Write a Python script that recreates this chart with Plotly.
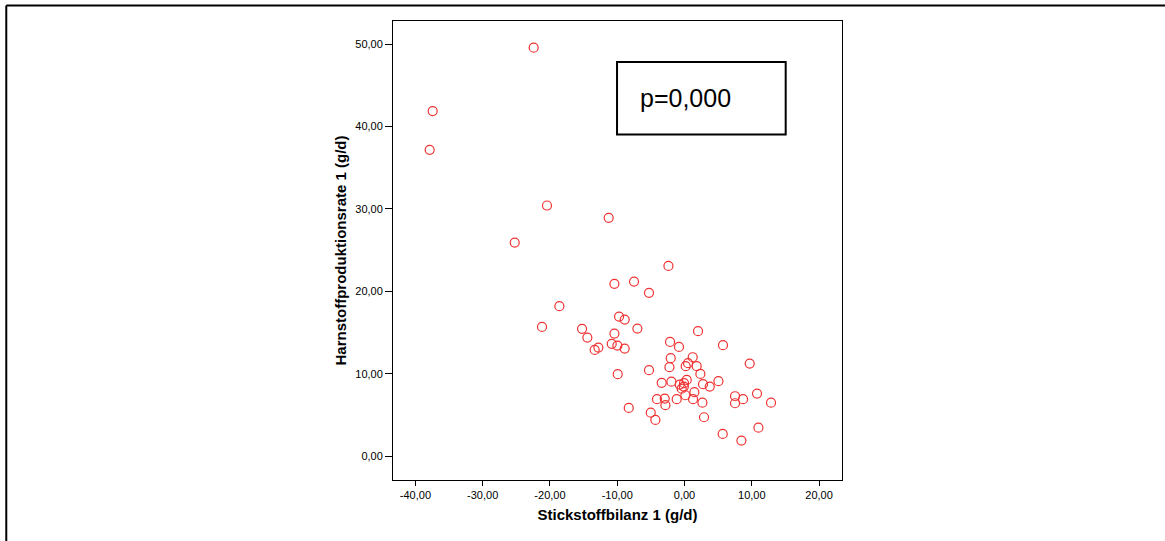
import plotly.graph_objects as go

# Stickstoffbilanz 1 (g/d) and Harnstoffproduktionsrate 1 (g/d) per patient
stickstoffbilanz = [
    -22.42, -37.43, -37.88, -20.44, -25.24, -18.60, -21.18, -11.27,
    -2.39, -10.42, -7.50, -5.28,
    -15.23, -14.44, -13.35, -12.80, -9.73, -8.89, -7.00, -10.42,
    -10.82, -9.98, -8.89, -9.93, -5.28,
    -2.15, -0.82, -2.05, -2.24,
    2.01, 5.72, 1.22, 0.52, 0.18, 1.81, 2.36, 9.69,
    -3.39, -1.95, -0.71, -0.07, 0.33, -0.42, -0.10,
    2.75, 3.75, 5.04, 1.47, 0.13, -1.16, 1.27, 2.66,
    -4.09, -2.94, -2.84, 7.51, 7.51, 8.70, 10.78, 12.86,
    -8.29, -5.02, -4.33, 2.90, 5.68, 8.46, 10.99,
]
harnstoffrate = [
    49.55, 41.86, 37.17, 30.41, 25.92, 18.20, 15.69, 28.92,
    23.09, 20.91, 21.19, 19.82,
    15.45, 14.39, 12.90, 13.18, 16.94, 16.58, 15.49, 14.88,
    13.63, 13.42, 13.06, 9.95, 10.44,
    13.87, 13.26, 11.89, 10.80,
    15.17, 13.47, 12.01, 11.29, 10.92, 10.92, 9.99, 11.24,
    8.90, 9.05, 8.69, 8.86, 9.26, 8.20, 8.45,
    8.74, 8.45, 9.10, 7.77, 7.40, 6.92, 6.92, 6.50,
    6.92, 6.99, 6.19, 7.28, 6.43, 6.92, 7.60, 6.50,
    5.86, 5.29, 4.41, 4.73, 2.71, 1.90, 3.47,
]

x_ticks = [-40, -30, -20, -10, 0, 10, 20]
y_ticks = [0, 10, 20, 30, 40, 50]
p_text = "p=0,000"


def fmt(v):
    return f"{v:.2f}".replace(".", ",")


FONT = "Liberation Sans, Arial, sans-serif"

fig = go.Figure()
fig.add_trace(go.Scatter(
    x=stickstoffbilanz,
    y=harnstoffrate,
    mode="markers",
    marker=dict(symbol="circle-open", size=9,
                line=dict(color="rgb(240,50,50)", width=1.2),
                color="rgb(240,50,50)"),
    showlegend=False,
    hoverinfo="x+y",
))

# p-value box
fig.add_shape(type="rect", xref="x", yref="y",
              x0=-10.03, x1=15.04, y0=39.03, y1=47.82,
              line=dict(color="black", width=2), fillcolor="white",
              layer="below")
fig.add_annotation(x=-6.91, y=43.4, xref="x", yref="y", text=p_text,
                   showarrow=False, xanchor="left", yanchor="middle",
                   font=dict(family=FONT, size=25, color="black"))

# outer frame lines (top and left edge of the page)
fig.add_shape(type="line", xref="paper", yref="paper",
              x0=-0.8613, x1=1.72, y0=1.0337, y1=1.0337,
              line=dict(color="black", width=2))
fig.add_shape(type="line", xref="paper", yref="paper",
              x0=-0.8613, x1=-0.8613, y0=-0.14, y1=1.0337,
              line=dict(color="black", width=2))

axis_common = dict(
    showgrid=False, zeroline=False, showline=True, mirror=True,
    linecolor="black", linewidth=1, ticks="outside", tickcolor="black",
    tickfont=dict(family=FONT, size=11, color="black"),
)

fig.update_xaxes(
    range=[-43.33, 23.41], tickvals=x_ticks,
    ticktext=[fmt(v) for v in x_ticks], ticklen=5,
    title=dict(text="<b>Stickstoffbilanz 1 (g/d)</b>", standoff=9,
               font=dict(family=FONT, size=15, color="black")),
    **axis_common,
)
fig.update_yaxes(
    range=[-2.88, 52.79], tickvals=y_ticks,
    ticktext=[fmt(v) for v in y_ticks], ticklen=7,
    title=dict(text="<b>Harnstoffproduktionsrate 1 (g/d)</b>", standoff=5,
               font=dict(family=FONT, size=15, color="black")),
    **axis_common,
)

fig.update_layout(
    width=1165, height=541,
    margin=dict(l=393.3, r=322.7, t=21.3, b=61),
    paper_bgcolor="white", plot_bgcolor="white",
    font=dict(family=FONT),
)

fig.write_html("out.html")
